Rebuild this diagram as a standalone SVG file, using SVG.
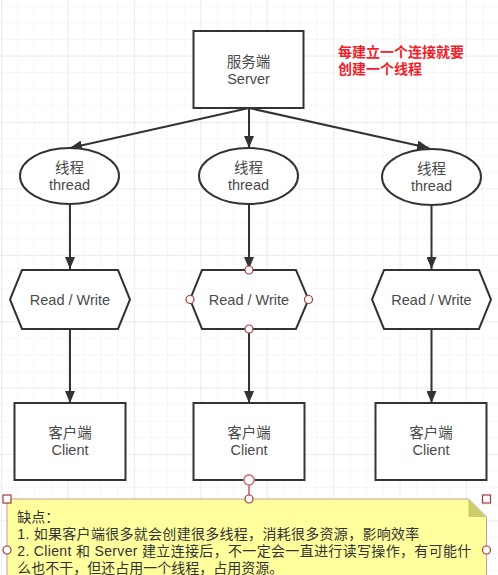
<svg xmlns="http://www.w3.org/2000/svg" width="498" height="575" viewBox="0 0 498 575">
  <defs>
    <pattern id="gridMinor" x="1" y="5.7" width="16.6" height="16.6" patternUnits="userSpaceOnUse">
      <path d="M0 0 V16.6 M0 0 H16.6" fill="none" stroke="#f0f0f0" stroke-width="1"/>
    </pattern>
    <pattern id="gridMajor" x="1.3" y="-10.7" width="66.4" height="66.4" patternUnits="userSpaceOnUse">
      <path d="M0 0 V66.4 M0 0 H66.4" fill="none" stroke="#e2e2e2" stroke-width="1"/>
    </pattern>
    <marker id="arrow" viewBox="0 0 12 10" refX="12" refY="5" markerWidth="12" markerHeight="10" markerUnits="userSpaceOnUse" orient="auto">
      <path d="M0 0 L12 5 L0 10 Z" fill="#333"/>
    </marker>
    <style>
      .shape { fill: #fff; stroke: #333; stroke-width: 2; }
      .label { font-family: "Liberation Sans", "Noto Sans CJK SC", sans-serif; font-size: 14.5px; fill: #4a4a4a; text-anchor: middle; }
      .edge { fill: none; stroke: #333; stroke-width: 2; marker-end: url(#arrow); }
      .red { font-family: "Liberation Sans", "Noto Sans CJK SC", sans-serif; font-size: 14px; font-weight: bold; fill: #f0202b; }
      .note-text { font-family: "Liberation Sans", "Noto Sans CJK SC", sans-serif; font-size: 14px; fill: #333; }
      .handle { fill: #fff; stroke: #a33a3a; stroke-width: 1.2; }
    </style>
  </defs>

  <!-- canvas grid -->
  <rect width="498" height="575" fill="#fff"/>
  <rect width="498" height="575" fill="url(#gridMinor)"/>
  <rect width="498" height="575" fill="url(#gridMajor)"/>

  <!-- connectors -->
  <g id="connectors">
    <path class="edge" d="M249 108 L70 148"/>
    <path class="edge" d="M249 108 L249 148"/>
    <path class="edge" d="M249 108 L429 148"/>
    <path class="edge" d="M70 204 L70 269"/>
    <path class="edge" d="M249 204 L249 269"/>
    <path class="edge" d="M431.5 205 L431.5 269"/>
    <path class="edge" d="M70 329 L70 403"/>
    <path class="edge" d="M249 329 L249 403"/>
    <path class="edge" d="M431.5 329 L431.5 403"/>
    <path d="M249 480 L249 499" fill="none" stroke="#a33a3a" stroke-width="1.2"/>
  </g>

  <!-- server -->
  <g id="server">
    <rect class="shape" x="193.5" y="31" width="110" height="77"/>
    <text class="label" x="248.5" y="66.5">服务端</text>
    <text class="label" x="248.5" y="83.5">Server</text>
  </g>

  <g id="note-red">
    <text class="red" x="338" y="57">每建立一个连接就要</text>
    <text class="red" x="338" y="74">创建一个线程</text>
  </g>

  <!-- threads -->
  <g id="thread-1">
    <ellipse class="shape" cx="69.5" cy="176" rx="49.5" ry="28"/>
    <text class="label" x="69.5" y="173">线程</text>
    <text class="label" x="69.5" y="190">thread</text>
  </g>
  <g id="thread-2">
    <ellipse class="shape" cx="248.5" cy="176" rx="49.5" ry="28"/>
    <text class="label" x="248.5" y="173">线程</text>
    <text class="label" x="248.5" y="190">thread</text>
  </g>
  <g id="thread-3">
    <ellipse class="shape" cx="431.5" cy="177" rx="49.5" ry="28"/>
    <text class="label" x="431.5" y="174">线程</text>
    <text class="label" x="431.5" y="191">thread</text>
  </g>

  <!-- read / write steps -->
  <g id="rw-1">
    <polygon class="shape" points="22,270 118,270 130,299.5 118,329 22,329 10,299.5"/>
    <text class="label" x="70" y="304.5">Read / Write</text>
  </g>
  <g id="rw-2">
    <polygon class="shape" points="202,270 296,270 308.5,299.5 296,329 202,329 190,299.5"/>
    <text class="label" x="249" y="304.5">Read / Write</text>
    <circle class="handle" cx="249" cy="270" r="4"/>
    <circle class="handle" cx="190" cy="299.5" r="4"/>
    <circle class="handle" cx="308.5" cy="299.5" r="4"/>
    <circle class="handle" cx="249" cy="329" r="4"/>
  </g>
  <g id="rw-3">
    <polygon class="shape" points="384,270 479,270 491,299.5 479,329 384,329 372,299.5"/>
    <text class="label" x="431.5" y="304.5">Read / Write</text>
  </g>

  <!-- clients -->
  <g id="client-1">
    <rect class="shape" x="14.5" y="403" width="111" height="77"/>
    <text class="label" x="70" y="438">客户端</text>
    <text class="label" x="70" y="455">Client</text>
  </g>
  <g id="client-2">
    <rect class="shape" x="193.5" y="403" width="111" height="77"/>
    <text class="label" x="249" y="438">客户端</text>
    <text class="label" x="249" y="455">Client</text>
    <circle cx="249" cy="480" r="5" fill="#fff" stroke="#c48a8a" stroke-width="2"/>
  </g>
  <g id="client-3">
    <rect class="shape" x="375.5" y="403" width="111" height="77"/>
    <text class="label" x="431" y="438">客户端</text>
    <text class="label" x="431" y="455">Client</text>
  </g>

  <!-- drawbacks note -->
  <g id="note">
    <path d="M7 499 H468.5 L486.5 517 V600 H7 Z" fill="#ffff9e" stroke="#cf9a9a" stroke-width="1"/>
    <path d="M468.5 499 L486.5 517 H468.5 Z" fill="#cccc6a"/>
    <text class="note-text" x="17.3" y="521.5">缺点：</text>
    <text class="note-text" x="17.3" y="538.5" textLength="402" lengthAdjust="spacing">1. 如果客户端很多就会创建很多线程，消耗很多资源，影响效率</text>
    <text class="note-text" x="17.3" y="555.5" textLength="454" lengthAdjust="spacing">2. Client 和 Server 建立连接后，不一定会一直进行读写操作，有可能什</text>
    <text class="note-text" x="17.3" y="572.5">么也不干，但还占用一个线程，占用资源。</text>
    <rect class="handle" x="3" y="495" width="8" height="8"/>
    <rect class="handle" x="482.5" y="495" width="8" height="8"/>
    <circle class="handle" cx="249" cy="499" r="4"/>
    <circle class="handle" cx="7" cy="550" r="4"/>
    <circle class="handle" cx="486.5" cy="550" r="4"/>
  </g>
</svg>
